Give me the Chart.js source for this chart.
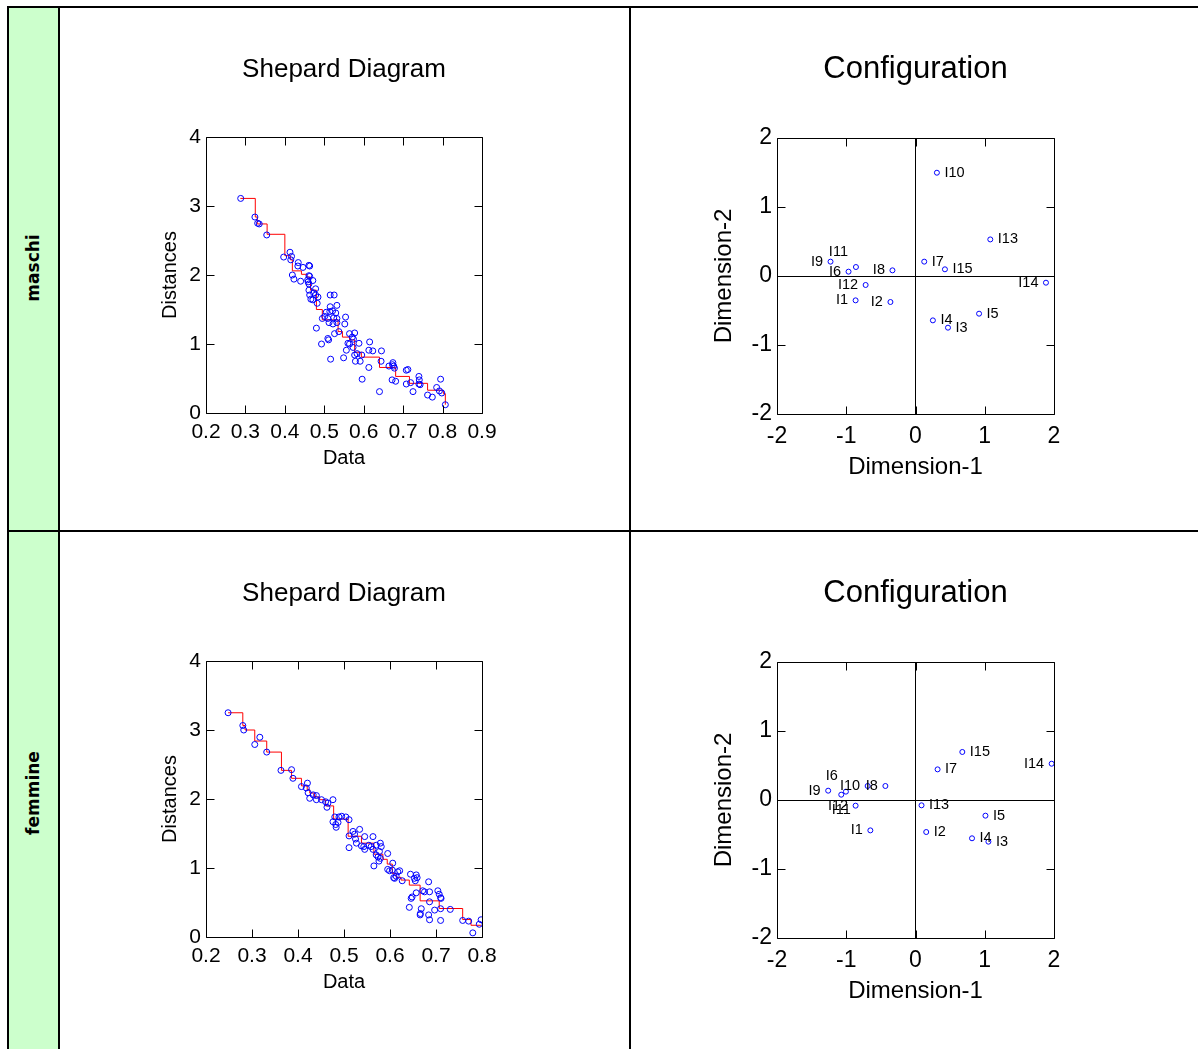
<!DOCTYPE html>
<html>
<head>
<meta charset="utf-8">
<title>MDS maschi / femmine</title>
<script src="https://cdn.jsdelivr.net/npm/chart.js@4.4.1/dist/chart.umd.min.js"></script>
<style>
html, body { margin: 0; padding: 0; width: 1198px; height: 1049px; overflow: hidden; background: #fff; }
#page { position: relative; width: 1198px; height: 1049px; overflow: hidden; }
.rule { position: absolute; background: #000; }
.green { position: absolute; background: #ccffcc; }
.rowlab { position: absolute; font: bold 17px 'DejaVu Sans', sans-serif; color: #000;
          transform: translate(-50%, -50%) rotate(-90deg); white-space: nowrap; }
canvas { position: absolute; }
</style>
</head>
<body>
<div id="page">
  <div class="green" style="left:9px;top:8px;width:49px;height:522px"></div>
  <div class="green" style="left:9px;top:532px;width:49px;height:530px"></div>

  <div class="rule" style="left:7px;top:6px;width:1191px;height:2px"></div>
  <div class="rule" style="left:7px;top:530px;width:1191px;height:2px"></div>
  <div class="rule" style="left:7px;top:6px;width:2px;height:1060px"></div>
  <div class="rule" style="left:58px;top:6px;width:2px;height:1060px"></div>
  <div class="rule" style="left:629px;top:6px;width:2px;height:1060px"></div>

  <div class="rowlab" style="left:33px;top:268px">maschi</div>
  <div class="rowlab" style="left:33px;top:793px">femmine</div>

  <canvas id="shepM" width="569" height="522" style="left:60px;top:8px;width:569px;height:522px"></canvas>
  <canvas id="confM" width="567" height="522" style="left:631px;top:8px;width:567px;height:522px"></canvas>
  <canvas id="shepF" width="569" height="522" style="left:60px;top:532px;width:569px;height:522px"></canvas>
  <canvas id="confF" width="567" height="522" style="left:631px;top:532px;width:567px;height:522px"></canvas>
</div>

<script>
// ---- Shepard diagram, maschi ----
const shepMaleData = [0.288, 0.324, 0.331, 0.335, 0.354, 0.397, 0.413, 0.417, 0.415, 0.434, 0.433, 0.446, 0.461, 0.463,
  0.419, 0.423, 0.440, 0.461, 0.463, 0.458, 0.459, 0.471, 0.461, 0.478, 0.461, 0.473, 0.463, 0.478, 0.466, 0.471,
  0.484, 0.482, 0.515, 0.525, 0.532, 0.515, 0.505, 0.514, 0.521, 0.529, 0.501, 0.495, 0.509, 0.524, 0.532, 0.554,
  0.552, 0.512, 0.522, 0.532, 0.480, 0.493, 0.509, 0.511, 0.526, 0.537, 0.516, 0.549, 0.556, 0.564, 0.577, 0.571,
  0.574, 0.560, 0.564, 0.573, 0.577, 0.583, 0.588, 0.591, 0.579, 0.595, 0.613, 0.623, 0.615, 0.645, 0.644, 0.613,
  0.596, 0.640, 0.664, 0.674, 0.676, 0.678, 0.673, 0.672, 0.681, 0.708, 0.712, 0.708, 0.719, 0.725, 0.740, 0.741,
  0.740, 0.743, 0.762, 0.774, 0.785, 0.792, 0.795, 0.798, 0.807];
const shepMaleDist = [3.11, 2.84, 2.75, 2.74, 2.58, 2.26, 2.33, 2.27, 2.22, 2.18, 2.13, 2.11, 2.14, 2.13,
  2.00, 1.94, 1.91, 1.99, 1.98, 1.93, 1.90, 1.92, 1.87, 1.80, 1.78, 1.74, 1.71, 1.71, 1.65, 1.64,
  1.68, 1.59, 1.71, 1.71, 1.56, 1.54, 1.46, 1.47, 1.48, 1.45, 1.40, 1.37, 1.37, 1.38, 1.37, 1.39,
  1.29, 1.31, 1.29, 1.31, 1.23, 1.00, 1.08, 1.06, 1.15, 1.18, 0.78, 0.80, 0.91, 1.15, 1.16, 1.10,
  1.07, 1.01, 1.00, 0.95, 0.84, 0.86, 1.01, 0.75, 0.75, 0.84, 0.91, 0.90, 1.03, 0.90, 0.75, 0.66,
  0.49, 0.31, 0.68, 0.73, 0.68, 0.65, 0.70, 0.48, 0.46, 0.62, 0.63, 0.42, 0.44, 0.31, 0.53, 0.48,
  0.42, 0.41, 0.26, 0.23, 0.37, 0.32, 0.49, 0.29, 0.12];
const shepMaleStepData = [0.287, 0.325, 0.330, 0.355, 0.400, 0.414, 0.419, 0.442, 0.456, 0.465, 0.480, 0.495,
  0.535, 0.546, 0.564, 0.577, 0.594, 0.640, 0.681, 0.716, 0.762, 0.802, 0.807];
const shepMaleStepFit = [3.11, 2.84, 2.74, 2.59, 2.28, 2.22, 2.06, 2.01, 1.97, 1.78, 1.50, 1.35,
  1.18, 1.10, 1.06, 0.88, 0.81, 0.66, 0.53, 0.43, 0.33, 0.28, 0.12];
const shepMaleXTicks = [0.2, 0.3, 0.4, 0.5, 0.6, 0.7, 0.8, 0.9];

// ---- Shepard diagram, femmine ----
const shepFemData = [0.248, 0.280, 0.282, 0.317, 0.306, 0.332, 0.363, 0.386, 0.389, 0.4075, 0.4205, 0.418, 0.422,
  0.4255, 0.433, 0.440, 0.440, 0.451, 0.460, 0.463, 0.465, 0.476, 0.480, 0.476, 0.482, 0.487, 0.489, 0.483, 0.495,
  0.504, 0.511, 0.511, 0.511, 0.5195, 0.523, 0.525, 0.534, 0.527, 0.538, 0.545, 0.543, 0.545, 0.563, 0.554, 0.559,
  0.563, 0.570, 0.579, 0.581, 0.565, 0.574, 0.576, 0.579, 0.570, 0.577, 0.595, 0.595, 0.599, 0.605, 0.606, 0.608,
  0.617, 0.621, 0.6135, 0.610, 0.6265, 0.6445, 0.657, 0.659, 0.655, 0.653, 0.684, 0.671, 0.675, 0.686, 0.657,
  0.648, 0.646, 0.642, 0.668, 0.666, 0.6655, 0.686, 0.684, 0.686, 0.697, 0.704, 0.707, 0.710, 0.711, 0.710, 0.710,
  0.731, 0.758, 0.771, 0.780, 0.794, 0.798];
const shepFemDist = [3.25, 3.065, 3.00, 2.895, 2.79, 2.68, 2.415, 2.425, 2.30, 2.18, 2.23, 2.16, 2.09,
  2.01, 2.06, 2.05, 1.99, 1.99, 1.96, 1.88, 1.94, 1.99, 1.74, 1.67, 1.63, 1.66, 1.74, 1.59, 1.75,
  1.74, 1.70, 1.465, 1.295, 1.53, 1.49, 1.42, 1.56, 1.36, 1.32, 1.27, 1.31, 1.455, 1.455, 1.33, 1.31,
  1.27, 1.33, 1.36, 1.31, 1.03, 1.16, 1.10, 1.14, 1.19, 1.24, 1.21, 0.98, 0.96, 0.97, 1.07, 0.86,
  0.945, 0.96, 0.88, 0.85, 0.815, 0.91, 0.90, 0.86, 0.815, 0.85, 0.80, 0.67, 0.655, 0.655, 0.64,
  0.58, 0.56, 0.43, 0.41, 0.34, 0.32, 0.51, 0.32, 0.25, 0.39, 0.67, 0.62, 0.57, 0.56, 0.41, 0.24,
  0.40, 0.24, 0.23, 0.06, 0.185, 0.25];
const shepFemStepData = [0.248, 0.280, 0.285, 0.306, 0.332, 0.364, 0.386, 0.4075, 0.420, 0.4255, 0.436, 0.447,
  0.460, 0.4775, 0.509, 0.538, 0.565, 0.5845, 0.594, 0.605, 0.6135, 0.624, 0.642, 0.6655, 0.707, 0.758, 0.776, 0.798];
const shepFemStepFit = [3.25, 3.065, 3.00, 2.84, 2.68, 2.415, 2.30, 2.19, 2.135, 2.086, 2.03, 1.99,
  1.90, 1.71, 1.46, 1.36, 1.20, 1.126, 1.057, 0.922, 0.864, 0.825, 0.752, 0.524, 0.413, 0.253, 0.17, 0.17];
const shepFemXTicks = [0.2, 0.3, 0.4, 0.5, 0.6, 0.7, 0.8];

const shepYTicks = [0, 1, 2, 3, 4];

// ---- Configuration, maschi ----
const confMaleNames = ['I1', 'I2', 'I3', 'I4', 'I5', 'I6', 'I7', 'I8', 'I9', 'I10', 'I11', 'I12', 'I13', 'I14', 'I15'];
const confMaleDim1 = [-0.865, -0.362, 0.469, 0.251, 0.918, -0.967, 0.126, -0.333, -1.227, 0.309, -0.860, -0.720, 1.080, 1.884, 0.425];
const confMaleDim2 = [-0.353, -0.377, -0.749, -0.643, -0.546, 0.063, 0.208, 0.082, 0.208, 1.497, 0.130, -0.130, 0.530, -0.097, 0.097];
const confMaleSide = ['l', 'l', 'r', 'r', 'r', 'l', 'r', 'l', 'l', 'r', 'ul', 'l', 'r', 'l', 'r'];

// ---- Configuration, femmine ----
const confFemNames = ['I1', 'I2', 'I3', 'I4', 'I5', 'I6', 'I7', 'I8', 'I9', 'I10', 'I11', 'I12', 'I13', 'I14', 'I15'];
const confFemDim1 = [-0.652, 0.155, 1.053, 0.816, 1.010, -1.005, 0.319, -0.435, -1.261, -0.691, -1.072, -0.865, 0.087, 1.966, 0.676];
const confFemDim2 = [-0.440, -0.464, -0.604, -0.555, -0.227, 0.121, 0.444, 0.203, 0.135, 0.203, 0.077, -0.082, -0.077, 0.526, 0.696];
const confFemSide = ['l', 'r', 'r', 'r', 'r', 'ul', 'r', 'l', 'l', 'l', 'b', 'l', 'r', 'l', 'r'];

const confTicks = [-2, -1, 0, 1, 2];

const FONT = "'Liberation Sans', Arial, sans-serif";

// frame around the plot area with inward tick marks on all four sides
const framePlugin = {
    id: 'frame',
    afterDatasetsDraw(chart) {
        const { ctx, chartArea: a, scales } = chart;
        const len = 8;
        const l = Math.round(a.left) + 0.5, r = Math.round(a.right) + 0.5;
        const t = Math.round(a.top) + 0.5, b = Math.round(a.bottom) + 0.5;
        ctx.save();
        ctx.strokeStyle = '#000';
        ctx.lineWidth = 1;
        ctx.beginPath();
        ctx.rect(l, t, r - l, b - t);
        scales.x.ticks.forEach(tk => {
            const px = Math.round(scales.x.getPixelForValue(tk.value)) + 0.5;
            ctx.moveTo(px, t); ctx.lineTo(px, t + len);
            ctx.moveTo(px, b); ctx.lineTo(px, b - len);
        });
        scales.y.ticks.forEach(tk => {
            const py = Math.round(scales.y.getPixelForValue(tk.value)) + 0.5;
            ctx.moveTo(l, py); ctx.lineTo(l + len, py);
            ctx.moveTo(r, py); ctx.lineTo(r - len, py);
        });
        ctx.stroke();
        ctx.restore();
    }
};

// point labels next to configuration points
function makeLabelPlugin(names, sides) {
    return {
        id: 'pointNames',
        afterDatasetsDraw(chart) {
            const ctx = chart.ctx;
            const meta = chart.getDatasetMeta(0);
            ctx.save();
            ctx.font = '14.5px ' + FONT;
            ctx.fillStyle = '#000';
            ctx.textBaseline = 'middle';
            meta.data.forEach((pt, i) => {
                let tx = pt.x, ty = pt.y;
                const side = sides[i];
                if (side === 'r') { ctx.textAlign = 'left'; tx += 7.5; }
                else if (side === 'l') { ctx.textAlign = 'right'; tx -= 7.5; }
                else if (side === 'ul') { ctx.textAlign = 'right'; tx -= 8; ty -= 15.5; }
                else { ctx.textAlign = 'center'; ty += 15.5; }
                ctx.fillText(names[i], tx, ty);
            });
            ctx.restore();
        }
    };
}

function fixedTicks(list) {
    return scale => { scale.ticks = list.map(v => ({ value: v })); };
}

function pairUp(xs, ys) {
    return xs.map((x, i) => ({ x: x, y: ys[i] }));
}

function initShepard(id, xs, ys, stepX, stepY, xTicks) {
    new Chart(document.getElementById(id), {
        type: 'scatter',
        data: {
            datasets: [{
                data: pairUp(xs, ys),
                pointStyle: 'circle',
                pointRadius: 3,
                borderColor: '#0000ff',
                backgroundColor: 'rgba(0,0,0,0)',
                borderWidth: 1
            }, {
                data: pairUp(stepX, stepY),
                showLine: true,
                stepped: 'before',
                pointRadius: 0,
                borderColor: '#ff0000',
                borderWidth: 1,
                fill: false
            }]
        },
        options: {
            responsive: false,
            animation: false,
            events: [],
            layout: { padding: { left: 98, right: 147, top: 0, bottom: 60 } },
            plugins: {
                legend: { display: false },
                tooltip: { enabled: false },
                title: {
                    display: true, text: 'Shepard Diagram', color: '#000', fullSize: false,
                    font: { family: FONT, size: 26, weight: 'normal' },
                    padding: { top: 46.4, bottom: 51.4 }
                }
            },
            scales: {
                x: {
                    type: 'linear', min: xTicks[0], max: xTicks[xTicks.length - 1],
                    afterBuildTicks: fixedTicks(xTicks),
                    afterFit: s => { s.height = 57; },
                    border: { display: false },
                    grid: { drawOnChartArea: false, drawTicks: false },
                    ticks: { autoSkip: false, maxRotation: 0, padding: 7, color: '#000',
                             font: { family: FONT, size: 21 }, callback: v => v.toFixed(1) },
                    title: { display: true, text: 'Data', color: '#000', padding: 0,
                             font: { family: FONT, size: 20 } }
                },
                y: {
                    type: 'linear', min: 0, max: 4,
                    afterBuildTicks: fixedTicks(shepYTicks),
                    afterFit: s => { s.width = 48; },
                    border: { display: false },
                    grid: { drawOnChartArea: false, drawTicks: false },
                    ticks: { autoSkip: false, padding: 5, color: '#000',
                             font: { family: FONT, size: 21 }, callback: v => String(v) },
                    title: { display: true, text: 'Distances', color: '#000', padding: 0,
                             font: { family: FONT, size: 20 } }
                }
            }
        },
        plugins: [framePlugin]
    });
}

function initConfiguration(id, names, d1, d2, sides) {
    const zeroLine = c => (c.tick && c.tick.value === 0) ? '#000' : 'rgba(0,0,0,0)';
    new Chart(document.getElementById(id), {
        type: 'scatter',
        data: {
            datasets: [{
                data: pairUp(d1, d2),
                pointStyle: 'circle',
                pointRadius: 2.5,
                borderColor: '#0000ff',
                backgroundColor: 'rgba(0,0,0,0)',
                borderWidth: 1
            }]
        },
        options: {
            responsive: false,
            animation: false,
            events: [],
            layout: { padding: { left: 78.6, right: 144, top: 0, bottom: 48.6 } },
            plugins: {
                legend: { display: false },
                tooltip: { enabled: false },
                title: {
                    display: true, text: 'Configuration', color: '#000', fullSize: false,
                    font: { family: FONT, size: 31, weight: 'normal' },
                    padding: { top: 42.4, bottom: 50.4 }
                }
            },
            scales: {
                x: {
                    type: 'linear', min: -2, max: 2,
                    afterBuildTicks: fixedTicks(confTicks),
                    afterFit: s => { s.height = 67.4; },
                    border: { display: false },
                    grid: { drawTicks: false, color: zeroLine, lineWidth: 1 },
                    ticks: { autoSkip: false, maxRotation: 0, padding: 9.2, color: '#000',
                             font: { family: FONT, size: 23 }, callback: v => String(v) },
                    title: { display: true, text: 'Dimension-1', color: '#000', padding: 0,
                             font: { family: FONT, size: 24 } }
                },
                y: {
                    type: 'linear', min: -2, max: 2,
                    afterBuildTicks: fixedTicks(confTicks),
                    afterFit: s => { s.width = 67.4; },
                    border: { display: false },
                    grid: { drawTicks: false, color: zeroLine, lineWidth: 1 },
                    ticks: { autoSkip: false, padding: 5, color: '#000',
                             font: { family: FONT, size: 23 }, callback: v => String(v) },
                    title: { display: true, text: 'Dimension-2', color: '#000', padding: 0,
                             font: { family: FONT, size: 24 } }
                }
            }
        },
        plugins: [framePlugin, makeLabelPlugin(names, sides)]
    });
}

initShepard('shepM', shepMaleData, shepMaleDist, shepMaleStepData, shepMaleStepFit, shepMaleXTicks);
initConfiguration('confM', confMaleNames, confMaleDim1, confMaleDim2, confMaleSide);
initShepard('shepF', shepFemData, shepFemDist, shepFemStepData, shepFemStepFit, shepFemXTicks);
initConfiguration('confF', confFemNames, confFemDim1, confFemDim2, confFemSide);
</script>
</body>
</html>
